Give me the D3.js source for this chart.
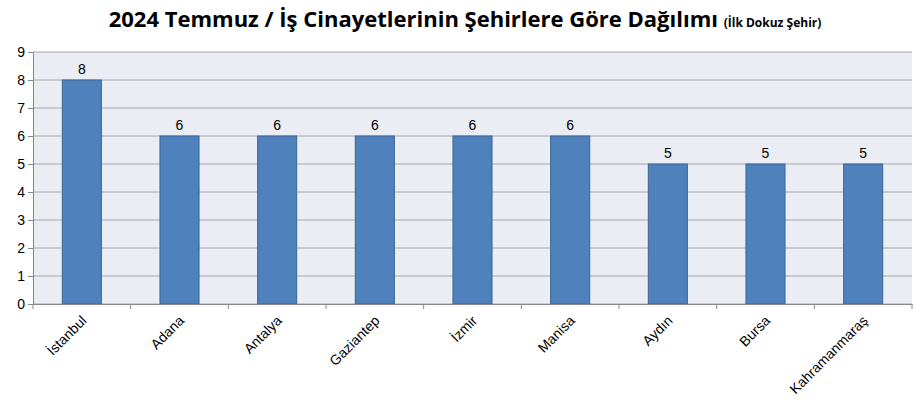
<!DOCTYPE html>
<html><head><meta charset="utf-8">
<script src="https://cdn.jsdelivr.net/npm/d3@7"></script>
<style>body{margin:0;background:#fff}</style></head>
<body><svg id="c" width="922" height="415"></svg>
<script>
const categories=["İstanbul","Adana","Antalya","Gaziantep","İzmir","Manisa","Aydın","Bursa","Kahramanmaraş"];
const values=[8,6,6,6,6,6,5,5,5];
const yTicks=[0,1,2,3,4,5,6,7,8,9];
const svg=d3.select("#c");
const m={l:33,r:912,t:52,b:304};
const x=d3.scaleBand().domain(categories).range([m.l,m.r]).paddingInner(0.6).paddingOuter(0.3);
const y=d3.scaleLinear().domain([0,9]).range([m.b,m.t]);
svg.append("rect").attr("x",m.l).attr("y",m.t).attr("width",m.r-m.l).attr("height",m.b-m.t).attr("fill","#eaedf4");
svg.append("g").selectAll("line").data(yTicks).join("line").attr("x1",m.l).attr("x2",m.r).attr("y1",d=>y(d)).attr("y2",d=>y(d)).attr("stroke","#a6a6a6").attr("stroke-width",1);
svg.append("g").selectAll("rect").data(values).join("rect").attr("x",(d,i)=>x(categories[i])).attr("width",x.bandwidth()).attr("y",d=>y(d)).attr("height",d=>m.b-y(d)).attr("fill","#4f81bd").attr("stroke","#3a6595").attr("stroke-width",1);
svg.append("g").selectAll("text").data(values).join("text").attr("x",(d,i)=>x(categories[i])+x.bandwidth()/2).attr("y",d=>y(d)-6).attr("text-anchor","middle").attr("font-family","Liberation Sans, Arial").attr("font-size",14).text(d=>d);
const ya=svg.append("g").attr("transform",`translate(${m.l},0)`).call(d3.axisLeft(y).tickValues(yTicks).tickSize(5).tickFormat(d3.format("d")));
ya.selectAll("text").attr("font-family","Liberation Sans, Arial").attr("font-size",14).attr("fill","#000");
ya.selectAll("line,path").attr("stroke","#888");
const xa=svg.append("g").attr("transform",`translate(0,${m.b})`).call(d3.axisBottom(x).tickSize(0).tickFormat(d=>d));
xa.select("path").attr("stroke","#888");
xa.selectAll("text").attr("font-family","Liberation Sans, Arial").attr("font-size",14).attr("fill","#000").attr("text-anchor","end").attr("transform","translate(0,12) rotate(-45)").attr("dy","0.35em");
svg.append("g").selectAll("line").data(d3.range(10)).join("line").attr("x1",d=>m.l+d*(m.r-m.l)/9).attr("x2",d=>m.l+d*(m.r-m.l)/9).attr("y1",m.b).attr("y2",m.b+5).attr("stroke","#888");
const t=svg.append("text").attr("x",465).attr("y",27).attr("text-anchor","middle").attr("font-family","Open Sans, Liberation Sans").attr("font-weight","bold");
t.append("tspan").attr("font-size",22).text("2024 Temmuz / İş Cinayetlerinin Şehirlere Göre Dağılımı ");
t.append("tspan").attr("font-size",12).text("(İlk Dokuz Şehir)");
</script></body></html>
